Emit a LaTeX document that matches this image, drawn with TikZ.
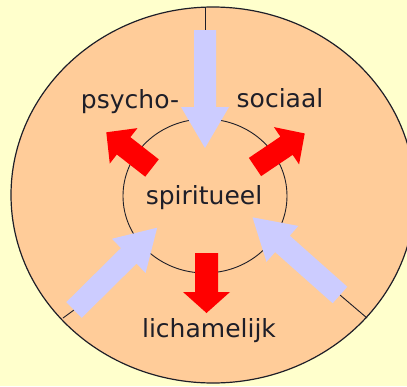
\documentclass[tikz,border=0pt]{standalone}
\usepackage{fontspec}
\setmainfont{DejaVu Sans}
\usepackage{tikz}

\definecolor{bgyellow}{HTML}{FFFFCC}
\definecolor{peach}{HTML}{FFCC99}
\definecolor{lavender}{HTML}{CCCCFF}
\definecolor{flowred}{HTML}{FF0000}
\definecolor{textdark}{HTML}{1E1E28}

% block arrow: style, tail, angle, length, shaft width, head width, head length
\newcommand{\blockarrow}[7]{%
  \fill[#1, shift={(#2)}, rotate=#3] (0,#5/2) -- (#4-#7,#5/2) -- (#4-#7,#6/2) -- (#4,0)
    -- (#4-#7,-#6/2) -- (#4-#7,-#5/2) -- (0,-#5/2) -- cycle;}

\begin{document}
\begin{tikzpicture}[x=1pt, y=-1pt,
  inflow/.style={fill=lavender},
  outflow/.style={fill=flowred},
  spoke/.style={draw=textdark, line width=0.9pt},
  lbl/.style={text=textdark, inner sep=0pt, anchor=base, font=\fontsize{25}{30}\selectfont}]
\useasboundingbox (0,0) rectangle (407,386);
\fill[bgyellow] (0,0) rectangle (407,386);
\clip (0,0) rectangle (407,386);

%outer circle
\filldraw[fill=peach, draw=textdark, line width=1.2pt] (213,195) ellipse [x radius=202pt, y radius=188pt];

%spokes
\coordinate (topout) at (205,7);
\coordinate (topin) at (205,30);
\coordinate (leftout) at (63,318);
\coordinate (leftin) at (74,310);
\coordinate (rightout) at (367,318);
\coordinate (rightin) at (340,295);
\draw[spoke] (topout) -- (topin);
\draw[spoke] (leftout) -- (leftin);
\draw[spoke] (rightout) -- (rightin);

%inner circle
\draw[textdark, line width=0.9pt] (205,196) ellipse [x radius=82pt, y radius=77pt];

%incoming arrows
\blockarrow{inflow}{topin}{-90}{118}{22}{48}{41}
\blockarrow{inflow}{leftin}{44.7}{117}{22}{48}{40}
\blockarrow{inflow}{rightin}{138.4}{117}{22}{48}{40}

%outgoing arrows
\coordinate (redleft) at (152,168);
\coordinate (redright) at (255,167);
\coordinate (redbottom) at (206.5,253);
\blockarrow{outflow}{redleft}{142}{58}{22}{45}{22}
\blockarrow{outflow}{redright}{34}{60}{22}{45}{22}
\blockarrow{outflow}{redbottom}{-90}{60}{23}{47}{21}

%labels
\node[lbl] (psycho) at (130,108) {psycho-};
\node[lbl] (sociaal) at (280,107) {sociaal};
\node[lbl] (spiritueel) at (204,204) {spiritueel};
\node[lbl] (lichamelijk) at (209,337) {lichamelijk};
\end{tikzpicture}
\end{document}
